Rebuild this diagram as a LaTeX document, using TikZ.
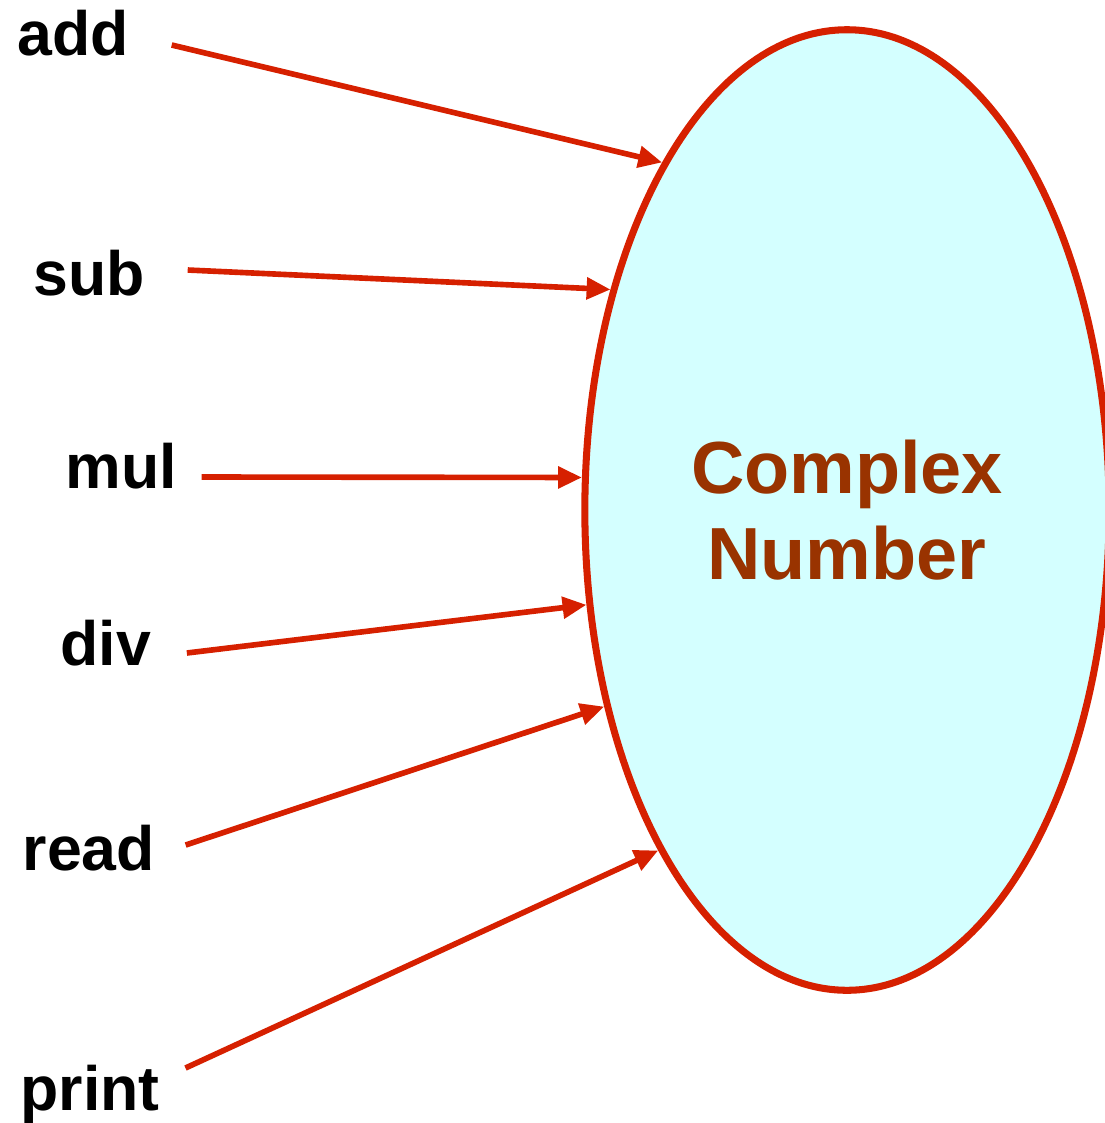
\documentclass[tikz,border=0pt]{standalone}
\usepackage{fontspec}
\setmainfont{Liberation Sans}
\usetikzlibrary{shapes.geometric, arrows.meta}

\definecolor{opred}{HTML}{D62000}
\definecolor{cnfill}{HTML}{D4FFFF}
\definecolor{cntext}{HTML}{993300}

\begin{document}
\begin{tikzpicture}[x = 0.01cm, y = -0.01cm,
  op/.style={anchor=base west, inner sep=0, font=\bfseries\fontsize{17.8}{20}\selectfont},
  call/.style={draw=opred, line width=1.6pt, -{Triangle[length=6.8pt, width=6pt]}}]

  \useasboundingbox (0, 0) rectangle (1105, 1123);

  % Complex number object
  \node[ellipse, draw=opred, line width=2pt, fill=cnfill,
        minimum width=5.24cm, minimum height=9.6cm, align=center,
        text=cntext, font=\bfseries\fontsize{21}{24.5}\selectfont]
        (cn) at (847, 510) {Complex\\Number};

  % Operations on it
  \foreach \nm/\bx/\by/\gx/\gy/\ang in {add/17/55/42/-10/118, sub/33/295/42/-25/137,
      mul/65/488/24/-11/173, div/60/665/35/-12/200, read/22/870/30/-25/219,
      print/20/1110/25/-42/241} {
    \node[op] (\nm) at (\bx, \by) {\nm};
    \draw[call] ([shift={(\gx, \gy)}]\nm.base east) -- (cn.\ang);
  }

\end{tikzpicture}
\end{document}
